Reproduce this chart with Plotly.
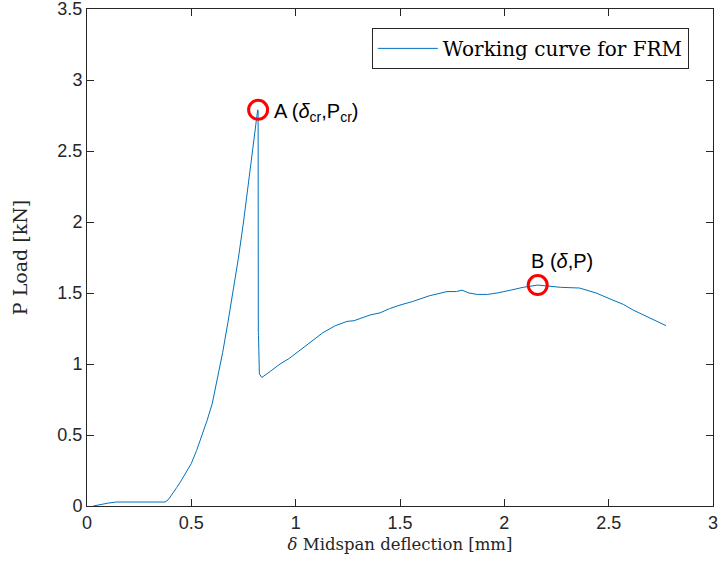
import plotly.graph_objects as go

deflection = [0.03, 0.06, 0.10, 0.14, 0.20, 0.30, 0.374,
              0.39, 0.41, 0.43, 0.45, 0.475, 0.50, 0.525, 0.55, 0.575, 0.60, 0.625, 0.65, 0.675,
              0.70, 0.725, 0.75, 0.775, 0.80, 0.818,
              0.820, 0.821, 0.822, 0.826, 0.838, 0.88, 0.925, 0.97, 1.006, 1.07, 1.13, 1.19, 1.246, 1.28, 1.31,
              1.356, 1.404, 1.45, 1.50, 1.56, 1.64, 1.725, 1.77, 1.797, 1.83, 1.87, 1.92, 1.965, 2.03, 2.09,
              2.16, 2.21, 2.27, 2.36, 2.44, 2.52, 2.57, 2.617, 2.70, 2.775]
load = [0.0, 0.01, 0.02, 0.028, 0.028, 0.028, 0.028,
        0.045, 0.085, 0.13, 0.175, 0.235, 0.30, 0.39, 0.49, 0.60, 0.72, 0.90, 1.08, 1.29,
        1.50, 1.74, 2.00, 2.28, 2.58, 2.79,
        2.78, 1.22, 1.20, 0.93, 0.905, 0.95, 1.00, 1.04, 1.08, 1.15, 1.22, 1.27, 1.30, 1.305, 1.32,
        1.345, 1.36, 1.39, 1.415, 1.44, 1.48, 1.51, 1.51, 1.52, 1.50, 1.49, 1.49, 1.50, 1.52, 1.54,
        1.556, 1.55, 1.54, 1.535, 1.50, 1.45, 1.42, 1.38, 1.32, 1.27]

point_x = [0.82, 2.16]
point_y = [2.79, 1.556]
point_labels = ["A (<i>δ</i><sub>cr</sub>,P<sub>cr</sub>)", "B (<i>δ</i>,P)"]

x_ticks = [0, 0.5, 1, 1.5, 2, 2.5, 3]
y_ticks = [0, 0.5, 1, 1.5, 2, 2.5, 3, 3.5]

SANS = "Liberation Sans, Arial"
SERIF = "DejaVu Serif, serif"

fig = go.Figure()
fig.add_trace(go.Scatter(x=deflection, y=load, mode="lines", name="Working curve for FRM",
                         line=dict(color="#0072BD", width=1)))
fig.add_trace(go.Scatter(x=point_x, y=point_y, mode="markers", showlegend=False,
                         marker=dict(symbol="circle-open", size=19, color="#FF0000",
                                     line=dict(width=3, color="#FF0000"))))

fig.add_annotation(x=point_x[0], y=point_y[0], text=point_labels[0], showarrow=False,
                   xanchor="left", yanchor="middle", xshift=14, yshift=-3,
                   font=dict(family=SANS, size=20, color="black"))
fig.add_annotation(x=point_x[1], y=point_y[1], text=point_labels[1], showarrow=False,
                   xanchor="left", yanchor="bottom", xshift=-9, yshift=11,
                   font=dict(family=SANS, size=20, color="black"))

axis_common = dict(showgrid=False, zeroline=False, showline=True, mirror="ticks",
                   linecolor="#262626", linewidth=1, ticks="inside", ticklen=7,
                   tickcolor="#262626", ticklabeloverflow="allow", automargin=False,
                   tickfont=dict(family=SANS, size=18, color="#262626"))

fig.update_xaxes(range=[0, 3], tickvals=x_ticks, ticktext=[str(v) for v in x_ticks],
                 title=dict(text="<i>δ</i> Midspan deflection [mm]", standoff=6,
                            font=dict(family=SERIF, size=16.5, color="#262626")),
                 **axis_common)
fig.update_yaxes(range=[0, 3.5], tickvals=y_ticks, ticktext=[str(v) for v in y_ticks],
                 title=dict(text="P Load [kN]", standoff=24,
                            font=dict(family=SERIF, size=19, color="#262626")),
                 **axis_common)

fig.update_layout(width=721, height=564, margin=dict(l=87, r=8, t=9, b=58),
                  plot_bgcolor="white", paper_bgcolor="white",
                  legend=dict(x=0.455, y=0.962, xanchor="left", yanchor="top", itemwidth=60,
                              bordercolor="#262626", borderwidth=1, bgcolor="white",
                              font=dict(family=SERIF, size=20, color="black")))

fig.write_html("out.html")
